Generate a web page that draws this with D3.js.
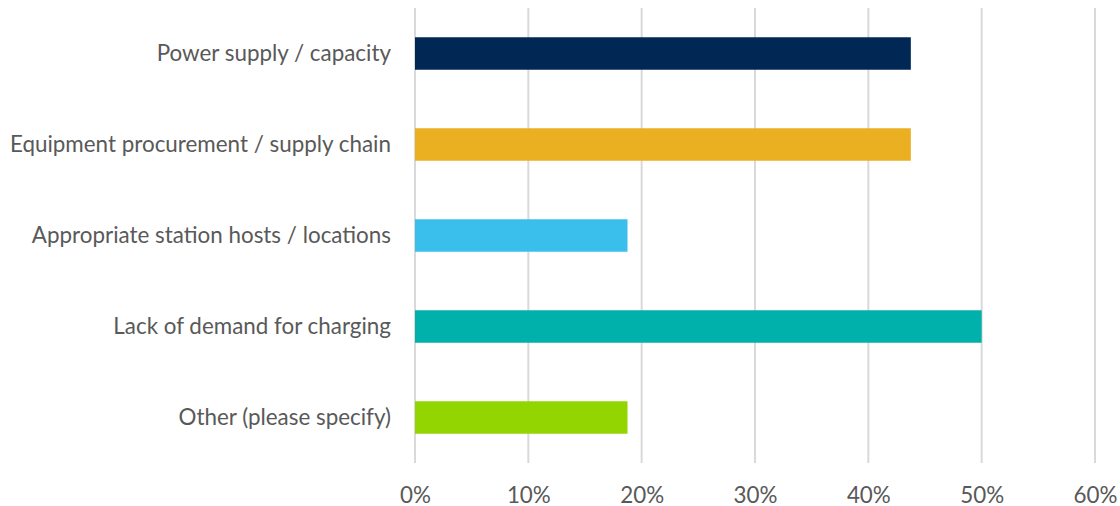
<!DOCTYPE html>
<html>
<head>
<meta charset="utf-8">
<script src="https://cdn.jsdelivr.net/npm/d3@7"></script>
<style>
  html, body { margin: 0; padding: 0; background: #fff; }
  svg { display: block; }
  text { font-family: Lato, "Open Sans", sans-serif; fill: #595959; }
</style>
</head>
<body>
<svg id="chart" width="1120" height="506"></svg>
<script>
// Challenges reported for charging deployment (share of respondents)
const categories = [
  "Power supply / capacity",
  "Equipment procurement / supply chain",
  "Appropriate station hosts / locations",
  "Lack of demand for charging",
  "Other (please specify)"
];
const shares = [0.4375, 0.4375, 0.1875, 0.50, 0.1875];
const barColors = ["#012855", "#EBAF22", "#3ABFEC", "#00B0AA", "#93D500"];
const xTicks = [0, 0.1, 0.2, 0.3, 0.4, 0.5, 0.6];

const svg = d3.select("#chart");
const plot = { left: 415, right: 1095, top: 8, bottom: 463 };
const labelFont = "22.4px";

const x = d3.scaleLinear().domain([0, 0.6]).range([plot.left, plot.right]);
const y = d3.scaleBand()
  .domain(categories)
  .range([plot.top, plot.bottom])
  .paddingInner(0.643)
  .paddingOuter(0.3215);

// vertical gridlines
svg.append("g")
  .selectAll("line")
  .data(xTicks)
  .join("line")
  .attr("x1", d => x(d)).attr("x2", d => x(d))
  .attr("y1", plot.top).attr("y2", plot.bottom)
  .attr("stroke", "#d9d9d9")
  .attr("stroke-width", 2);

// bars
svg.append("g")
  .selectAll("rect")
  .data(categories)
  .join("rect")
  .attr("x", x(0))
  .attr("y", d => y(d))
  .attr("width", (d, i) => x(shares[i]) - x(0))
  .attr("height", y.bandwidth())
  .attr("fill", (d, i) => barColors[i]);

// x axis labels
const xAxis = d3.axisBottom(x)
  .tickValues(xTicks)
  .tickFormat(d3.format(".0%"))
  .tickSize(0)
  .tickPadding(0);
const gx = svg.append("g")
  .attr("transform", `translate(0,${plot.bottom})`)
  .call(xAxis);
gx.select(".domain").remove();
gx.selectAll("text")
  .attr("y", 32)
  .attr("dy", "0.35em")
  .style("font-size", labelFont)
  .style("font-family", "Lato, 'Open Sans', sans-serif")
  .attr("fill", "#595959");

// category labels
const yAxis = d3.axisLeft(y).tickSize(0).tickPadding(24);
const gy = svg.append("g")
  .attr("transform", `translate(${plot.left},0)`)
  .call(yAxis);
gy.select(".domain").remove();
gy.selectAll("text")
  .style("font-size", labelFont)
  .style("font-family", "Lato, 'Open Sans', sans-serif")
  .attr("fill", "#595959");
</script>
</body>
</html>
